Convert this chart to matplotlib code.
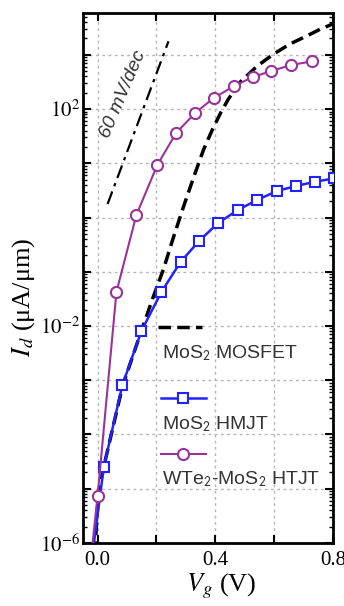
import numpy as np
import matplotlib
matplotlib.use('Agg')
import matplotlib.pyplot as plt
from matplotlib.ticker import LogLocator, FixedLocator, FuncFormatter, NullFormatter

plt.rcParams['mathtext.fontset'] = 'stix'
plt.rcParams['font.family'] = ['Liberation Serif', 'DejaVu Serif']

# transfer curves, gate voltage (V) and log10 of drain current (uA/um)
vg_mosfet = [-0.01, 0.003, 0.025, 0.085, 0.15, 0.19, 0.224, 0.258, 0.292, 0.325,
             0.36, 0.39, 0.42, 0.444, 0.485, 0.542, 0.597, 0.654, 0.712, 0.756, 0.80]
logid_mosfet = [-6.2, -5.06, -4.5, -3.1, -2.07, -1.45, -0.95, -0.36, 0.2, 0.72,
                1.25, 1.62, 1.95, 2.18, 2.5, 2.79, 3.01, 3.2, 3.35, 3.47, 3.57]

vg_hmjt = [-0.015, 0.021, 0.084, 0.149, 0.217, 0.282, 0.345, 0.41, 0.477, 0.541,
           0.61, 0.674, 0.739, 0.803]
logid_hmjt = [-6.1, -4.6, -3.09, -2.09, -1.37, -0.82, -0.43, -0.1, 0.14, 0.32,
              0.49, 0.58, 0.66, 0.72]

vg_htjt = [-0.02, 0.0, 0.064, 0.132, 0.203, 0.267, 0.332, 0.394, 0.462, 0.528,
           0.589, 0.657, 0.728]
logid_htjt = [-6.15, -5.13, -1.37, 0.05, 0.97, 1.56, 1.93, 2.2, 2.42, 2.59,
              2.7, 2.81, 2.88]

# 60 mV/dec reference line end points
vg_ref = [0.034, 0.241]
logid_ref = [0.25, 3.25]

xticks = [0.0, 0.2, 0.4, 0.6, 0.8]
xticklabels = ['0.0', '', '0.4', '', '0.8']
ylabel_exps = [2, -2, -6]

purple = '#993399'
blue = '#2222ff'
txt_gray = '#333333'

fig = plt.figure(figsize=(3.44, 6.06), dpi=100)
ax = fig.add_axes([0.241, 0.104, 0.727, 0.8745])
ax.set_yscale('log')

ax.plot(vg_mosfet, 10 ** np.array(logid_mosfet), color='black', lw=2.5,
        ls=(0, (3.6, 1.8)), zorder=3)
ax.plot(vg_ref, 10 ** np.array(logid_ref), color='black', lw=1.6,
        ls=(0, (6, 2.5, 1.5, 2.5)), zorder=3)
ax.plot(vg_hmjt, 10 ** np.array(logid_hmjt), color=blue, lw=1.8, marker='s',
        ms=6.5, mfc='white', mec=blue, mew=1.5, markevery=range(1, len(vg_hmjt)),
        zorder=4)
ax.plot(vg_htjt, 10 ** np.array(logid_htjt), color=purple, lw=1.5, marker='o',
        ms=8, mfc='white', mec=purple, mew=1.5, markevery=range(1, len(vg_htjt)),
        zorder=5)

ax.text(0.088, 10 ** 2.28, '60 mV/dec', rotation=67, ha='center', va='center',
        style='italic', fontsize=14, family='Liberation Sans', color=txt_gray)

# legend, text under each sample line
sans = dict(transform=ax.transAxes, fontsize=14, family='Liberation Sans',
            color=txt_gray, va='center', ha='left')
ax.plot([0.30, 0.476], [0.4075, 0.4075], transform=ax.transAxes, color='black',
        lw=2.5, ls=(0, (3.6, 1.8)))
ax.text(0.316, 0.358, r'MoS$_\mathsf{2}$ MOSFET', **sans)
ax.plot([0.312, 0.492], [0.2736, 0.2736], transform=ax.transAxes, color=blue, lw=1.8)
ax.plot([0.40], [0.2736], transform=ax.transAxes, marker='s', ms=6.5, mfc='white',
        mec=blue, mew=1.5)
ax.text(0.316, 0.225, r'MoS$_\mathsf{2}$ HMJT', **sans)
ax.plot([0.312, 0.492], [0.168, 0.168], transform=ax.transAxes, color=purple, lw=1.5)
ax.plot([0.40], [0.168], transform=ax.transAxes, marker='o', ms=8, mfc='white',
        mec=purple, mew=1.5)
ax.text(0.316, 0.12, r'WTe$_\mathsf{2}$-MoS$_\mathsf{2}$ HTJT', **sans)

ax.set_xlim(-0.05, 0.8)
ax.set_ylim(1e-6, 10 ** 3.77)

ax.xaxis.set_major_locator(FixedLocator(xticks))
ax.set_xticklabels(xticklabels)
ax.yaxis.set_major_locator(LogLocator(base=10, numticks=30))
ax.yaxis.set_minor_locator(LogLocator(base=10, subs=np.arange(2, 10), numticks=30))
ax.yaxis.set_minor_formatter(NullFormatter())
ax.yaxis.set_major_formatter(FuncFormatter(
    lambda v, p: r'$10^{%d}$' % round(np.log10(v)) if round(np.log10(v)) in ylabel_exps else ''))

ax.tick_params(which='both', direction='in', top=True, right=True, labelsize=15)
ax.tick_params(which='major', length=6, width=1.5)
ax.tick_params(which='minor', length=3, width=1)
ax.tick_params(axis='x', pad=6)
ax.tick_params(axis='y', pad=2)

ax.grid(True, which='major', color='#b5b5b5', lw=1, ls=(0, (2, 2.5)))
for s in ax.spines.values():
    s.set_linewidth(2)

fig.text(24 / 344, 1 - 297 / 606, r'$I_d$ (μA/μm)', rotation=90, ha='center',
         va='center', fontsize=19)
fig.text(221 / 344, 1 - 586 / 606, r'$V_g$ (V)', ha='center', va='center', fontsize=19)

fig.savefig('out.png', dpi=100)
